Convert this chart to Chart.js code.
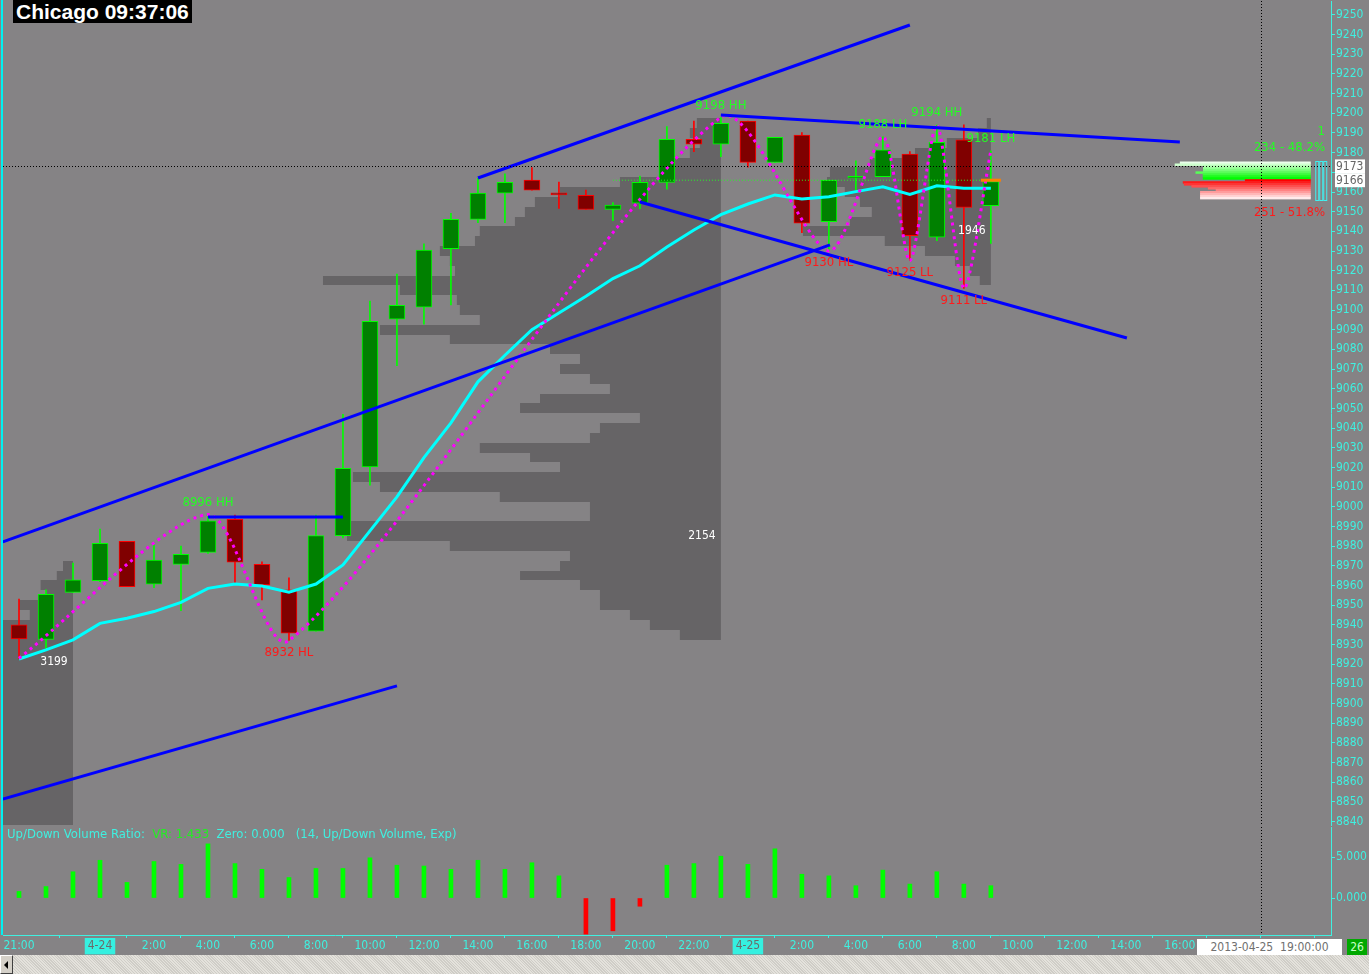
<!DOCTYPE html>
<html>
<head>
<meta charset="utf-8">
<script src="https://cdn.jsdelivr.net/npm/chart.js@4.4.0/dist/chart.umd.min.js"></script>
<style>
  body { margin: 0; width: 1369px; height: 974px; overflow: hidden; position: relative; background: #858385;
         font-family: "DejaVu Sans Condensed", "DejaVu Sans", sans-serif; }
  #mainWrap { position: absolute; left: 0; top: 0; width: 1369px; height: 826px; }
  #lowerWrap { position: absolute; left: 0; top: 826px; width: 1369px; height: 129px; }
  #title { position: absolute; left: 13px; top: 0; height: 23px; padding: 0 3px; background: #000; color: #fff;
           font: bold 21px "Liberation Sans", Arial, sans-serif; line-height: 23px; }
  #leftEdge { position: absolute; left: 1px; top: 0; width: 2px; height: 935px; background: #00f0f0; }
  #vrHead { position: absolute; left: 7px; top: 826px; font: 11.7px "DejaVu Sans", sans-serif; line-height: 16px; color: #3ff0e0; white-space: pre; }
  #vrHead .vr { color: #22ee22; }
  #dateBox { position: absolute; left: 1197px; top: 939px; width: 145px; height: 16px; background: #fff; color: #707070;
             font-size: 12px; line-height: 16px; text-align: center; white-space: pre; }
  #barCount { position: absolute; left: 1347px; top: 939px; width: 20px; height: 16px; background: #00a800; color: #c8ffc8;
              font-size: 12px; line-height: 16px; text-align: center; }
  #scroll { position: absolute; left: 0; top: 955px; width: 1369px; height: 19px;
            background: repeating-linear-gradient(45deg, #e4e2dc 0 1px, #cfcdc7 1px 2px); }
  #scrollBtn { position: absolute; left: 0; top: 0; width: 11px; height: 17px; background: #d4d0c8;
               border: 1px solid; border-color: #fff #404040 #404040 #fff; }
  #scrollBtn::after { content: ""; position: absolute; left: 3px; top: 5px; border-style: solid; border-width: 4px 4px 4px 0;
                      border-color: transparent #000 transparent transparent; }
</style>
</head>
<body>
<div id="mainWrap"><canvas id="mainChart"></canvas></div>
<div id="lowerWrap"><canvas id="lowerChart"></canvas></div>
<div id="leftEdge"></div>
<div id="title">Chicago 09:37:06</div>
<div id="vrHead">Up/Down Volume Ratio:  <span class="vr">VR: 1.433</span>  Zero: 0.000   (14, Up/Down Volume, Exp)</div>
<div id="dateBox">2013-04-25  19:00:00</div>
<div id="barCount">26</div>
<div id="scroll"><div id="scrollBtn"></div></div>
<script>
// hours counted from 2013-04-23 21:00, one bar per hour
const hours = [0, 1, 2, 3, 4, 5, 6, 7, 8, 9, 10, 11, 12, 13, 14, 15, 16, 17, 18, 19, 20, 21, 22, 23, 24, 25, 26, 27, 28, 29, 30, 31, 32, 33, 34, 35, 36];
const opens  = [8939.9, 8932.6, 8956.5, 8962.4, 8982.4, 8960.6, 8970.7, 8976.8, 8993.6, 8970.7, 8957.7, 8936.7, 8985.3, 9020.2, 9095.3, 9101.4, 9131.2, 9146.1, 9159.4, 9166.0, 9158.8, 9158.3, 9151.2, 9154.3, 9164.9, 9186.8, 9184.3, 9196.1, 9175.1, 9189.0, 9144.9, 9167.0, 9167.8, 9179.3, 9137.0, 9186.5, 9153.0];
const highs  = [8953.1, 8957.7, 8971.3, 8988.7, 8982.4, 8980.6, 8980.0, 8996.7, 8995.8, 8972.0, 8963.9, 8995.8, 9047.0, 9104.6, 9118.3, 9133.6, 9149.2, 9167.0, 9169.2, 9172.4, 9165.1, 9161.0, 9154.6, 9168.1, 9193.2, 9196.1, 9197.8, 9196.1, 9187.8, 9190.2, 9166.0, 9175.9, 9188.0, 9180.5, 9194.0, 9194.1, 9180.9];
const lows   = [8922.6, 8928.0, 8956.5, 8961.9, 8959.4, 8958.9, 8947.2, 8976.3, 8961.1, 8952.6, 8932.0, 8936.7, 8984.1, 9011.0, 9071.7, 9092.8, 9102.6, 9144.4, 9144.4, 9160.9, 9151.7, 9151.2, 9145.4, 9151.5, 9161.4, 9180.5, 9178.0, 9172.6, 9175.1, 9139.3, 9130.0, 9160.1, 9167.8, 9125.4, 9135.3, 9111.0, 9133.9];
const closes = [8932.8, 8955.5, 8962.8, 8981.4, 8959.4, 8972.9, 8975.8, 8992.8, 8971.8, 8960.2, 8935.7, 8985.3, 9019.5, 9094.3, 9102.4, 9130.5, 9146.1, 9159.4, 9164.9, 9160.9, 9158.5, 9151.2, 9153.3, 9164.9, 9186.8, 9184.3, 9194.9, 9175.1, 9187.8, 9144.1, 9166.0, 9167.4, 9181.4, 9137.8, 9185.3, 9152.2, 9165.3];
const ema    = [8922.6, 8927.2, 8932.3, 8940.7, 8943.3, 8946.7, 8951.4, 8958.5, 8960.7, 8959.7, 8956.5, 8960.7, 8970.4, 8987.7, 9005.0, 9025.0, 9042.6, 9063.5, 9077.0, 9090.0, 9098.5, 9107.0, 9116.0, 9122.5, 9132.0, 9140.7, 9148.5, 9153.9, 9158.5, 9156.5, 9157.6, 9160.2, 9162.7, 9158.8, 9163.2, 9161.9, 9161.9];
const volRatio = [0.8, 1.4, 3.2, 4.6, 1.9, 4.45, 4.1, 6.6, 4.2, 3.5, 2.5, 3.6, 3.6, 4.9, 4.0, 3.9, 3.5, 4.6, 3.5, 4.3, 2.7, -4.4, -4.0, -1.0, 4.0, 4.2, 5.1, 4.1, 6.0, 2.9, 2.7, 1.5, 3.4, 1.7, 3.2, 1.7, 1.5];

// swing zigzag
const swingHours  = [0, 7, 10, 26, 30, 32, 33, 34, 35, 36];
const swingPrices = [8923, 8996, 8932, 9198, 9130, 9188, 9125, 9194, 9111, 9181];
const swingTags   = ['', 'HH', 'HL', 'HH', 'HL', 'LH', 'LL', 'HH', 'LL', 'LH'];

// hand drawn trend lines
const trendStartH = [-0.6, 17.0, -0.6, 7.0, 26.0, 23.0];
const trendStartP = [8982.1, 9167.1, 8851.4, 8994.8, 9199.2, 9154.9];
const trendEndH   = [30.04, 33.0, 14.0, 12.0, 43.0, 41.04];
const trendEndP   = [9133.1, 9244.9, 8908.9, 8994.8, 9185.4, 9085.8];

// session volume profiles: bin price, width in hours drawn leftwards from anchor
const prevAnchor = 2, prevPoc = 8921, prevTotal = '3199';
const prevPrices = [8970, 8965, 8960, 8955, 8950, 8945, 8940, 8935, 8930, 8925, 8920, 8915, 8910, 8905, 8900, 8895, 8890, 8885, 8880, 8875, 8870, 8865, 8860, 8855, 8850, 8845, 8840];
const prevWidths = [0.37, 0.6, 1.2, 1.0, 2.0, 1.6, 3, 3, 3, 3, 3, 3, 3, 3, 3, 3, 3, 3, 3, 3, 3, 3, 3, 3, 3, 3, 3];

const day24Anchor = 26, day24Poc = 8985, day24Total = '2154';
const day24Prices = [9195, 9190, 9185, 9180, 9175, 9170, 9165, 9160, 9155, 9150, 9145, 9140, 9135, 9130, 9125, 9120, 9115, 9110, 9105, 9100, 9095, 9090, 9085, 9080, 9075, 9070, 9065, 9060, 9055, 9050, 9045, 9040, 9035, 9030, 9025, 9020, 9015, 9010, 9005, 9000, 8995, 8990, 8985, 8980, 8975, 8970, 8965, 8960, 8955, 8950, 8945, 8940, 8935];
const day24Widths = [0.89, 1.15, 0.78, 1.15, 1.89, 2.26, 3.74, 5.96, 6.89, 7.26, 7.63, 8.93, 9.11, 10.41, 10.04, 9.85, 14.74, 11.89, 9.78, 9.67, 8.93, 12.63, 10.04, 6.33, 5.22, 5.96, 4.85, 4.11, 6.7, 7.44, 3.0, 4.48, 4.85, 8.93, 7.07, 5.96, 13.63, 12.63, 8.19, 4.85, 4.85, 13.85, 13.85, 10.04, 5.59, 5.96, 7.44, 5.22, 4.48, 4.48, 3.37, 2.63, 1.52];

const day25Anchor = 36, day25Poc = 9140, day25Total = '1946';
const day25Prices = [9195, 9190, 9185, 9180, 9175, 9170, 9165, 9160, 9155, 9150, 9145, 9140, 9135, 9130, 9125, 9120, 9115];
const day25Widths = [0.15, 0.48, 1.63, 2.81, 4.48, 5.96, 6.07, 5.41, 4.85, 4.41, 5.22, 6.96, 3.93, 2.44, 1.33, 0.78, 0.41];

// bid / ask profile at the right edge
const baAnchor = 47.85;
const baPrices = [9175, 9174, 9173, 9172, 9171, 9170, 9169, 9168, 9167, 9166, 9165, 9164, 9163, 9162, 9161, 9160, 9159, 9158, 9157];
const baWidths = [4.85, 5.04, 3.99, 3.99, 3.99, 4.27, 4.0, 4.0, 4.0, 2.44, 4.74, 4.7, 4.42, 3.81, 3.52, 4.1, 4.1, 4.1, 4.1];
const baBuyText = '234 - 48.2%', baSellText = '251 - 51.8%';

const lastPrice = 9166, crossPrice = 9173, crossHour = 46;

// axis ticks
const priceTicks = [8840, 8850, 8860, 8870, 8880, 8890, 8900, 8910, 8920, 8930, 8940, 8950, 8960, 8970, 8980, 8990, 9000, 9010, 9020, 9030, 9040, 9050, 9060, 9070, 9080, 9090, 9100, 9110, 9120, 9130, 9140, 9150, 9160, 9170, 9180, 9190, 9200, 9210, 9220, 9230, 9240, 9250];
const ratioTicks = [0, 5];
const xTickHours  = [0, 3, 5, 7, 9, 11, 13, 15, 17, 19, 21, 23, 25, 27, 29, 31, 33, 35, 37, 39, 41, 43, 45, 47];
const xTickLabels = ['21:00', '4-24', '2:00', '4:00', '6:00', '8:00', '10:00', '12:00', '14:00', '16:00', '18:00', '20:00', '22:00', '4-25', '2:00', '4:00', '6:00', '8:00', '10:00', '12:00', '14:00', '16:00', '18:00', '20:00'];

const X_MIN = -0.593, X_MAX = 48.6;
const CYAN = '#3ff0e0';
const UP_FILL = '#008000', UP_LINE = '#00ff00', DN_FILL = '#800000', DN_LINE = '#ff0000';
const FONT = '"DejaVu Sans Condensed", "DejaVu Sans", sans-serif';

Chart.defaults.font.family = FONT;
Chart.defaults.font.size = 12;
Chart.defaults.animation = false;
Chart.defaults.plugins.legend.display = false;
Chart.defaults.plugins.tooltip.enabled = false;

const isUp = i => closes[i] >= opens[i];

const profiles = [
  { anchor: prevAnchor, prices: prevPrices, widths: prevWidths, poc: prevPoc, total: prevTotal },
  { anchor: day24Anchor, prices: day24Prices, widths: day24Widths, poc: day24Poc, total: day24Total },
  { anchor: day25Anchor, prices: day25Prices, widths: day25Widths, poc: day25Poc, total: day25Total }
];

function dotted(ctx, color, x1, y1, x2, y2) {
  ctx.save();
  ctx.strokeStyle = color;
  ctx.lineWidth = 1;
  ctx.setLineDash([1, 2]);
  ctx.beginPath();
  ctx.moveTo(x1, y1);
  ctx.lineTo(x2, y2);
  ctx.stroke();
  ctx.restore();
}

function baColor(i) {
  const p = baPrices[i];
  if (p > lastPrice) {
    const t = (p - lastPrice - 1) / (baPrices[0] - lastPrice - 1);
    const c = Math.round(235 * t);
    return `rgb(${c},255,${c})`;
  }
  const t = (lastPrice - p) / (lastPrice - baPrices[baPrices.length - 1]);
  const c = Math.round(235 * t);
  return `rgb(255,${c},${c})`;
}

const profilePlugin = {
  id: 'profiles',
  beforeDatasetsDraw(chart) {
    const { ctx, chartArea: a, scales: { x, y } } = chart;
    ctx.save();
    ctx.beginPath();
    ctx.rect(a.left, a.top, a.width, a.height);
    ctx.clip();
    ctx.fillStyle = '#666466';
    for (const pr of profiles) {
      const xr = x.getPixelForValue(pr.anchor);
      pr.prices.forEach((p, i) => {
        const xl = x.getPixelForValue(pr.anchor - pr.widths[i]);
        const yt = Math.round(y.getPixelForValue(p + 2.5));
        const yb = Math.round(y.getPixelForValue(p - 2.5));
        ctx.fillRect(xl, yt, xr - xl, yb - yt);
      });
    }
    // bid / ask
    const bxr = x.getPixelForValue(baAnchor);
    baPrices.forEach((p, i) => {
      const xl = x.getPixelForValue(baAnchor - baWidths[i]);
      const yt = y.getPixelForValue(p + 0.5);
      const yb = y.getPixelForValue(p - 0.5);
      ctx.fillStyle = baColor(i);
      ctx.fillRect(xl, yt, bxr - xl, yb - yt + 0.5);
    });
    // small cyan ladder next to the bid / ask block
    ctx.strokeStyle = '#40f0f0';
    ctx.lineWidth = 1;
    const ladTop = Math.round(y.getPixelForValue(baPrices[0] + 1)) + 0.5;
    const ladBot = Math.round(y.getPixelForValue(baPrices[baPrices.length - 1] - 1)) + 0.5;
    for (const dx of [5, 9, 13]) {
      ctx.strokeRect(bxr + dx, ladTop, 3, ladBot - ladTop);
    }
    ctx.restore();
  },
  afterDatasetsDraw(chart) {
    const { ctx, chartArea: a, scales: { x, y } } = chart;
    ctx.save();
    ctx.font = '13px ' + FONT;
    ctx.textAlign = 'center';
    ctx.textBaseline = 'middle';
    // swing labels
    for (let i = 1; i < swingHours.length; i++) {
      const high = swingTags[i].endsWith('H');
      const px = x.getPixelForValue(swingHours[i]);
      const py = y.getPixelForValue(swingPrices[i]) + (high ? -12 : 12);
      ctx.fillStyle = high ? '#22ff22' : '#ff1a1a';
      ctx.fillText(swingPrices[i] + ' ' + swingTags[i], px, py);
    }
    // profile totals
    ctx.font = '12px ' + FONT;
    ctx.fillStyle = '#ffffff';
    for (const pr of profiles) {
      ctx.fillText(pr.total, x.getPixelForValue(pr.anchor) - 19, y.getPixelForValue(pr.poc));
    }
    // last price tick
    ctx.fillStyle = '#ff8000';
    const lx = x.getPixelForValue(hours[hours.length - 1]);
    ctx.fillRect(lx - 10, y.getPixelForValue(lastPrice) - 1.5, 20, 3);
    // bid / ask texts
    ctx.font = '13px ' + FONT;
    ctx.textAlign = 'right';
    ctx.fillStyle = '#22ff22';
    ctx.fillText(baBuyText, a.right - 6, y.getPixelForValue(baPrices[0]) - 15);
    ctx.fillText('1', a.right - 6, y.getPixelForValue(baPrices[0]) - 31);
    ctx.fillStyle = '#ff1a1a';
    ctx.fillText(baSellText, a.right - 6, y.getPixelForValue(baPrices[baPrices.length - 1]) + 15);
    // crosshair
    const cy = Math.round(y.getPixelForValue(crossPrice)) + 0.5;
    dotted(ctx, '#000', a.left, cy, a.right, cy);
    const cx = Math.round(x.getPixelForValue(crossHour)) + 0.5;
    dotted(ctx, '#000', cx, a.top, cx, a.bottom);
    ctx.restore();
  },
  afterDraw(chart) {
    const { ctx, chartArea: a, scales: { y } } = chart;
    ctx.save();
    ctx.font = '12px ' + FONT;
    ctx.textBaseline = 'middle';
    ctx.textAlign = 'left';
    for (const v of [crossPrice, lastPrice]) {
      const py = y.getPixelForValue(v);
      ctx.fillStyle = '#ffffff';
      ctx.fillRect(a.right + 4, py - 7, 30, 14);
      ctx.fillStyle = '#666666';
      ctx.fillText(String(v), a.right + 5, py + 0.5);
    }
    ctx.restore();
  }
};

const lowerPlugin = {
  id: 'lowerCross',
  afterDatasetsDraw(chart) {
    const { ctx, chartArea: a, scales: { x } } = chart;
    const cx = Math.round(x.getPixelForValue(crossHour)) + 0.5;
    dotted(ctx, '#000', cx, a.top, cx, a.bottom);
  }
};

const pts = (hs, vs) => hs.map((h, i) => ({ x: h, y: vs[i] }));

const trendSets = trendStartH.map((h, i) => ({
  type: 'line',
  data: [{ x: h, y: trendStartP[i] }, { x: trendEndH[i], y: trendEndP[i] }],
  borderColor: '#0000ff',
  borderWidth: 3,
  pointRadius: 0,
  order: 1
}));

// zero line-height keeps the axis labels from shrinking the plot area
const axisFont = { family: FONT, size: 12, lineHeight: 0 };

new Chart(document.getElementById('mainChart'), {
  type: 'bar',
  data: {
    datasets: [
      ...trendSets,
      {
        type: 'line',
        data: pts(swingHours, swingPrices),
        borderColor: '#ff00ff',
        borderWidth: 3,
        borderDash: [3, 4],
        pointRadius: 0,
        tension: 0.25,
        order: 2
      },
      {
        type: 'line',
        data: pts(hours, ema),
        borderColor: '#00ffff',
        borderWidth: 3,
        pointRadius: 0,
        order: 3
      },
      {
        type: 'line',
        data: [{ x: 22, y: lastPrice }, { x: 36, y: lastPrice }],
        borderColor: '#22ff22',
        borderWidth: 1,
        borderDash: [1, 2],
        pointRadius: 0,
        order: 4
      },
      {
        data: hours.map((h, i) => ({ x: h, y: [opens[i], closes[i]] })),
        backgroundColor: hours.map((h, i) => isUp(i) ? UP_FILL : DN_FILL),
        borderColor: hours.map((h, i) => isUp(i) ? UP_LINE : DN_LINE),
        borderWidth: 1,
        borderSkipped: false,
        barThickness: 16,
        minBarLength: 2,
        grouped: false,
        order: 5
      },
      {
        data: hours.map((h, i) => ({ x: h, y: [lows[i], highs[i]] })),
        backgroundColor: hours.map((h, i) => isUp(i) ? UP_LINE : DN_LINE),
        borderWidth: 0,
        barThickness: 1,
        grouped: false,
        order: 6
      }
    ]
  },
  options: {
    responsive: true,
    maintainAspectRatio: false,
    layout: { padding: { left: 3, right: 0, top: 0, bottom: 0 }, autoPadding: false },
    scales: {
      x: { type: 'linear', display: false, min: X_MIN, max: X_MAX, offset: false },
      y: {
        type: 'linear',
        position: 'right',
        min: 8838.2,
        max: 9257.1,
        afterFit: s => { s.width = 38; },
        afterBuildTicks: s => { s.ticks = priceTicks.map(v => ({ value: v })); },
        ticks: { color: CYAN, padding: 1, autoSkip: false, font: axisFont, callback: v => String(v) },
        grid: { drawOnChartArea: false, drawTicks: true, tickLength: 4, color: CYAN },
        border: { color: CYAN, width: 1 }
      }
    }
  },
  plugins: [profilePlugin]
});

const isDate = i => xTickLabels[i] && xTickLabels[i].includes('-');

new Chart(document.getElementById('lowerChart'), {
  type: 'bar',
  data: {
    datasets: [{
      data: pts(hours, volRatio),
      backgroundColor: volRatio.map(v => v >= 0 ? '#00ff00' : '#ff0000'),
      barThickness: 4,
      grouped: false
    }]
  },
  options: {
    responsive: true,
    maintainAspectRatio: false,
    layout: { padding: { left: 3, right: 0, top: 0, bottom: 0 }, autoPadding: false },
    scales: {
      x: {
        type: 'linear',
        min: X_MIN,
        max: X_MAX,
        offset: false,
        afterFit: s => { s.height = 20; },
        afterBuildTicks: s => { s.ticks = xTickHours.map(v => ({ value: v })); },
        ticks: {
          autoSkip: false,
          maxRotation: 0,
          padding: 1,
          callback: (v, i) => xTickLabels[i],
          color: c => isDate(c.index) ? '#6b6b6b' : CYAN,
          showLabelBackdrop: c => isDate(c.index),
          backdropColor: '#35f0e0',
          backdropPadding: { x: 3, y: 1 }
        },
        grid: { drawOnChartArea: false, drawTicks: true, tickLength: 3, color: CYAN },
        border: { color: CYAN, width: 1 }
      },
      y: {
        type: 'linear',
        position: 'right',
        min: -4.51,
        max: 8.66,
        afterFit: s => { s.width = 38; },
        afterBuildTicks: s => { s.ticks = ratioTicks.map(v => ({ value: v })); },
        ticks: { color: CYAN, padding: 1, font: axisFont, callback: v => v.toFixed(3) },
        grid: { drawOnChartArea: false, drawTicks: true, tickLength: 4, color: CYAN },
        border: { color: CYAN, width: 1 }
      }
    }
  },
  plugins: [lowerPlugin]
});
</script>
</body>
</html>
